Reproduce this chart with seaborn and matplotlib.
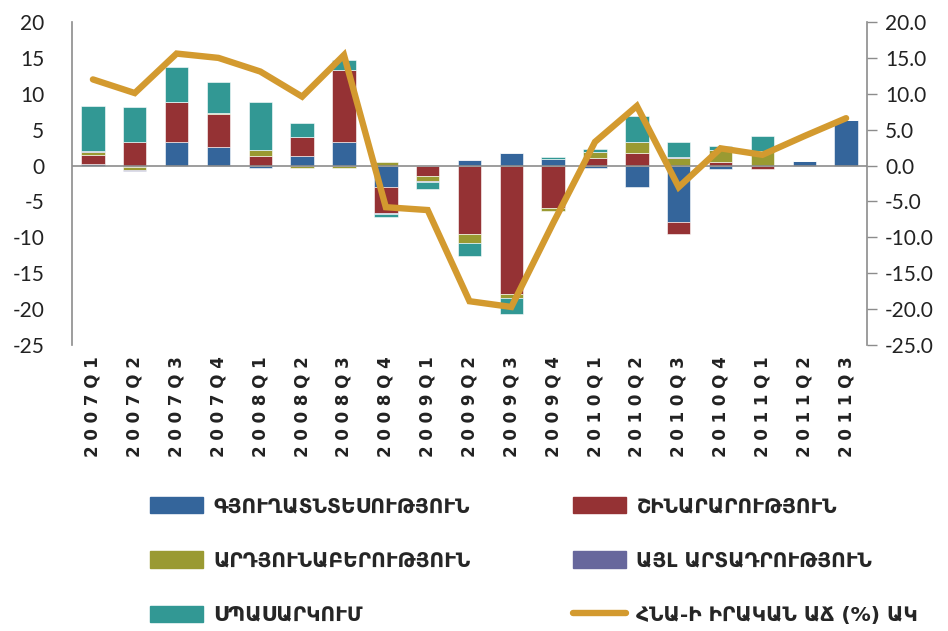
import numpy as np
import seaborn as sns
import matplotlib.pyplot as plt
from matplotlib.patches import Patch
from matplotlib.lines import Line2D

sns.set_style("white")

# data
quarters = ['2007Q1', '2007Q2', '2007Q3', '2007Q4', '2008Q1', '2008Q2', '2008Q3', '2008Q4',
            '2009Q1', '2009Q2', '2009Q3', '2009Q4', '2010Q1', '2010Q2', '2010Q3', '2010Q4',
            '2011Q1', '2011Q2', '2011Q3']
agriculture = [0.2, -0.2, 3.3, 2.6, -0.4, 1.4, 3.3, -3.0, 0.0, 0.8, 1.7, 0.9,
               -0.4, -3.0, -7.9, -0.5, 0.0, 0.6, 6.3]
construction = [1.3, 3.3, 5.5, 4.6, 1.4, 2.6, 10.0, -3.6, -1.4, -9.5, -17.9, -5.9,
                1.0, 1.75, -1.6, 0.45, -0.45, 0.0, 0.0]
industry = [0.4, -0.4, 0.0, 0.1, 0.7, -0.3, -0.3, 0.5, -0.8, -1.3, -0.55, -0.4,
            0.9, 1.6, 1.05, 1.75, 2.0, 0.0, 0.0]
other = [0.1, -0.1, 0.0, 0.0, 0.0, 0.0, 0.0, -0.1, -0.1, 0.0, 0.0, 0.0,
         0.0, 0.0, 0.1, 0.0, 0.0, 0.0, 0.0]
services = [6.3, 4.9, 5.0, 4.3, 6.7, 1.95, 1.4, -0.5, -0.9, -1.85, -2.2, 0.3,
            0.45, 3.6, 2.1, 0.55, 2.1, 0.0, 0.0]
gdp_growth = [12.0, 10.1, 15.6, 15.0, 13.1, 9.6, 15.4, -5.8, -6.2, -18.9, -19.7, -8.0,
              3.3, 8.3, -3.0, 2.4, 1.5, 4.1, 6.6]

series = [
    ("ԳՅՈՒՂԱՏՆՏԵՍՈՒԹՅՈՒՆ", agriculture, "#34659b"),
    ("ՇԻՆԱՐԱՐՈՒԹՅՈՒՆ", construction, "#953234"),
    ("ԱՐԴՅՈՒՆԱԲԵՐՈՒԹՅՈՒՆ", industry, "#9a9a32"),
    ("ԱՅԼ ԱՐՏԱԴՐՈՒԹՅՈՒՆ", other, "#67679c"),
    ("ՍՊԱՍԱՐԿՈՒՄ", services, "#329894"),
]
line_label = "ՀՆԱ-Ի ԻՐԱԿԱՆ ԱՃ (%) ԱԿ"
line_color = "#d39a2f"

fig = plt.figure(figsize=(9.48, 6.31), dpi=100)
ax = fig.add_axes([72 / 948, 1 - 345 / 631, (867 - 72) / 948, (345 - 22) / 631])

# stack positives upward and negatives downward, like Excel does
pos = np.zeros(len(quarters))
neg = np.zeros(len(quarters))
for name, vals, col in series:
    vals = np.array(vals, dtype=float)
    bottom = np.where(vals >= 0, pos, neg)
    sns.barplot(x=quarters, y=vals, bottom=bottom, color=col, saturation=1, width=0.56,
                errorbar=None, edgecolor="white", linewidth=0.4, ax=ax)
    pos += np.clip(vals, 0, None)
    neg += np.clip(vals, None, 0)

ax.axhline(0, color="#8c8c8c", lw=1.2, zorder=1)
ax.set_ylim(-25, 20)
ax.set_xlim(-0.5, len(quarters) - 0.5)
ax.set_yticks(np.arange(-25, 21, 5))
ax.set_yticklabels([f"{v}" for v in range(-25, 21, 5)], fontsize=15, family="Lato",
                   color="#222222")
ax.tick_params(axis="y", length=0, pad=20)
ax.set_xticks(range(len(quarters)))
ax.set_xticklabels([" ".join(q) for q in quarters], rotation=90, fontsize=12,
                   fontweight="bold", family="DejaVu Sans", color="#222222")
ax.tick_params(axis="x", length=0, pad=8)
ax.set_xlabel("")
for s in ["top", "right", "bottom"]:
    ax.spines[s].set_visible(False)
ax.spines["left"].set_color("#8c8c8c")
ax.spines["left"].set_linewidth(1.2)

ax2 = ax.twinx()
sns.lineplot(x=np.arange(len(quarters)), y=gdp_growth, color=line_color, lw=4.6,
             ax=ax2, solid_joinstyle="miter")
ax2.set_ylim(-25, 20)
ax2.set_yticks(np.arange(-25, 21, 5))
ax2.set_yticklabels([f"{v:.1f}" for v in range(-25, 21, 5)], fontsize=15, family="Lato",
                    color="#222222")
ax2.tick_params(axis="y", length=7, width=1, color="#8c8c8c", pad=6, right=True)
for s in ["top", "left", "bottom"]:
    ax2.spines[s].set_visible(False)
ax2.spines["right"].set_color("#8c8c8c")
ax2.spines["right"].set_linewidth(1.2)

# legend: column-major order gives the 2-column layout of the original
handles = [Patch(color=series[0][2]), Patch(color=series[2][2]), Patch(color=series[4][2]),
           Patch(color=series[1][2]), Patch(color=series[3][2]),
           Line2D([], [], color=line_color, lw=4.6)]
labels = [series[0][0], series[2][0], series[4][0], series[1][0], series[3][0], line_label]
fig.legend(handles, labels, ncol=2, loc="upper left", bbox_to_anchor=(150 / 948, 1 - 497 / 631),
           frameon=False, borderpad=0, borderaxespad=0, handlelength=2.64, handleheight=0.85,
           handletextpad=0.5, labelspacing=1.76, columnspacing=5.1,
           prop={"family": "DejaVu Sans", "weight": "bold", "size": 14.5})

fig.savefig("out.png", dpi=100)
